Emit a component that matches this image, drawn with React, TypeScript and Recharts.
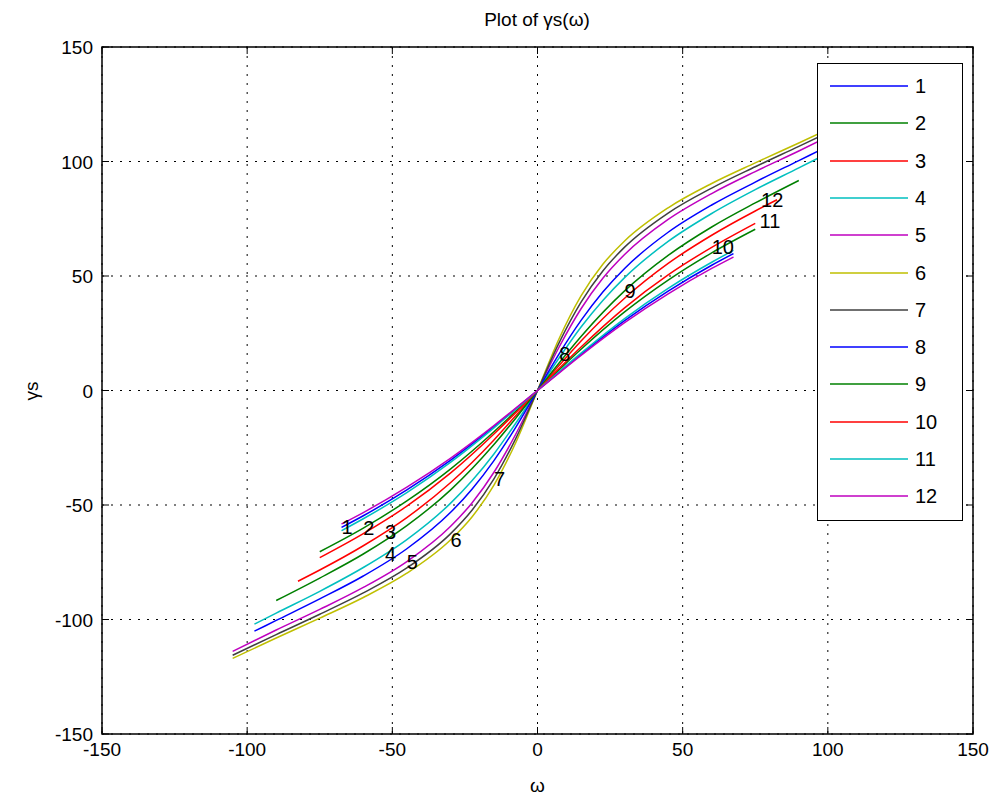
import { ComposedChart, Line, Scatter, XAxis, YAxis, CartesianGrid, Legend, ReferenceArea } from 'recharts'

// month index 1..12, MATLAB default colour order (b g r c m y k, then again)
const MONTHS = ['1', '2', '3', '4', '5', '6', '7', '8', '9', '10', '11', '12']
const COLORS = [
  '#0000ff', '#008000', '#ff0000', '#00bfbf', '#bf00bf', '#bfbf00',
  '#404040', '#0000ff', '#008000', '#ff0000', '#00bfbf', '#bf00bf',
]
const TICKS = [-150, -100, -50, 0, 50, 100, 150]

// [ω, γs]
const M1 = [[-67.5, -59.8], [-60, -54.7], [-45, -43.4], [-30, -30.5], [-15, -15.8], [-7.5, -8.0], [0, 0], [7.5, 8.0], [15, 15.8], [30, 30.5], [45, 43.4], [60, 54.7], [67.5, 59.8]]
const M2 = [[-75, -70.4], [-60, -60.1], [-45, -48.2], [-30, -34.3], [-15, -18.0], [-7.5, -9.1], [0, 0], [7.5, 9.1], [15, 18.0], [30, 34.3], [45, 48.2], [60, 60.1], [75, 70.4]]
const M3 = [[-82.5, -83.3], [-75, -78.4], [-60, -67.8], [-45, -55.5], [-30, -40.3], [-15, -21.6], [-7.5, -11.0], [0, 0], [7.5, 11.0], [15, 21.6], [30, 40.3], [45, 55.5], [60, 67.8], [75, 78.4], [82.5, 83.3]]
const M4 = [[-97.5, -102.0], [-90, -97.2], [-75, -87.7], [-60, -77.3], [-45, -65.1], [-30, -49.3], [-22.5, -39.3], [-15, -27.7], [-7.5, -14.3], [0, 0], [7.5, 14.3], [15, 27.7], [22.5, 39.3], [30, 49.3], [45, 65.1], [60, 77.3], [75, 87.7], [90, 97.2], [97.5, 102.0]]
const M5 = [[-105, -113.9], [-90, -104.6], [-75, -95.6], [-60, -86.0], [-45, -74.7], [-30, -59.4], [-22.5, -49.0], [-15, -35.7], [-7.5, -19.1], [0, 0], [7.5, 19.1], [15, 35.7], [22.5, 49.0], [30, 59.4], [45, 74.7], [60, 86.0], [75, 95.6], [90, 104.6], [105, 113.9]]
const M6 = [[-105, -117.0], [-90, -108.1], [-75, -99.4], [-60, -90.4], [-45, -79.8], [-30, -65.3], [-22.5, -55.1], [-15, -41.3], [-7.5, -22.8], [0, 0], [7.5, 22.8], [15, 41.3], [22.5, 55.1], [30, 65.3], [45, 79.8], [60, 90.4], [75, 99.4], [90, 108.1], [105, 117.0]]
const M7 = [[-105, -115.6], [-90, -106.6], [-75, -97.7], [-60, -88.4], [-45, -77.5], [-30, -62.6], [-22.5, -52.2], [-15, -38.6], [-7.5, -21.0], [0, 0], [7.5, 21.0], [15, 38.6], [22.5, 52.2], [30, 62.6], [45, 77.5], [60, 88.4], [75, 97.7], [90, 106.6], [105, 115.6]]
const M8 = [[-97.5, -105.1], [-90, -100.4], [-75, -91.0], [-60, -81.0], [-45, -69.1], [-30, -53.3], [-22.5, -43.0], [-15, -30.6], [-7.5, -16.1], [0, 0], [7.5, 16.1], [15, 30.6], [22.5, 43.0], [30, 53.3], [45, 69.1], [60, 81.0], [75, 91.0], [90, 100.4], [97.5, 105.1]]
const M9 = [[-90, -91.7], [-75, -81.9], [-60, -71.4], [-45, -59.0], [-30, -43.5], [-15, -23.6], [-7.5, -12.1], [0, 0], [7.5, 12.1], [15, 23.6], [30, 43.5], [45, 59.0], [60, 71.4], [75, 81.9], [90, 91.7]]
const M10 = [[-75, -73.0], [-60, -62.5], [-45, -50.5], [-30, -36.1], [-15, -19.0], [-7.5, -9.7], [0, 0], [7.5, 9.7], [15, 19.0], [30, 36.1], [45, 50.5], [60, 62.5], [75, 73.0]]
const M11 = [[-67.5, -61.2], [-60, -56.0], [-45, -44.6], [-30, -31.4], [-15, -16.3], [-7.5, -8.3], [0, 0], [7.5, 8.3], [15, 16.3], [30, 31.4], [45, 44.6], [60, 56.0], [67.5, 61.2]]
const M12 = [[-67.5, -58.3], [-60, -53.3], [-45, -42.2], [-30, -29.6], [-15, -15.3], [-7.5, -7.7], [0, 0], [7.5, 7.7], [15, 15.3], [30, 29.6], [45, 42.2], [60, 53.3], [67.5, 58.3]]
const SERIES = [M1, M2, M3, M4, M5, M6, M7, M8, M9, M10, M11, M12]

// where the in-plot number tags sit (left edge of the text)
const TAG_W = [-67.5, -60, -52.5, -52.5, -45, -30, -15, 7.5, 30, 60, 76.5, 77]
const TAG_G = [-59.8, -60.1, -61.9, -71.6, -74.7, -65.3, -38.6, 16.1, 43.5, 62.5, 74, 83]

const FONT = '"Liberation Sans", Arial, sans-serif'
// plot box in page pixels
const LEFT = 102, RIGHT = 973, TOP = 47, BOTTOM = 734
const YW = 60, XH = 40

function XTick({ x, payload }: any) {
  return (
    <g>
      <line x1={x} x2={x} y1={BOTTOM} y2={BOTTOM - 7} stroke="#000" />
      <line x1={x} x2={x} y1={TOP} y2={TOP + 7} stroke="#000" />
      <text x={x} y={BOTTOM + 22} textAnchor="middle" fontSize={19} fontFamily={FONT} fill="#000">
        {payload.value}
      </text>
    </g>
  )
}

function YTick({ y, payload }: any) {
  return (
    <g>
      <line x1={LEFT} x2={LEFT + 7} y1={y} y2={y} stroke="#000" />
      <line x1={RIGHT} x2={RIGHT - 7} y1={y} y2={y} stroke="#000" />
      <text x={LEFT - 9} y={y + 7} textAnchor="end" fontSize={19} fontFamily={FONT} fill="#000">
        {payload.value}
      </text>
    </g>
  )
}

// legend rows: sample line then month number, one row per Line series
function LegendBox({ payload }: any) {
  const items = (payload ?? [])
    .filter((p: any) => MONTHS.includes(String(p.value)))
    .sort((a: any, b: any) => Number(a.value) - Number(b.value))
  return (
    <div style={{
      width: 146, height: 458, boxSizing: 'border-box', border: '1.5px solid #000',
      background: '#fff', position: 'relative', fontFamily: FONT,
    }}>
      {items.map((p: any, i: number) => (
        <div key={p.value} style={{
          position: 'absolute', left: 12, top: Math.round(22 + i * 37.3) - 12, height: 24,
          display: 'flex', alignItems: 'center',
        }}>
          <svg width={78} height={4} style={{ display: 'block' }}>
            <line x1={0} x2={78} y1={2} y2={2} stroke={COLORS[Number(p.value) - 1]} strokeWidth={1.5} />
          </svg>
          <span style={{ marginLeft: 7, fontSize: 20, color: '#000' }}>{p.value}</span>
        </div>
      ))}
    </div>
  )
}

export default function App() {
  const tags = TAG_W.map((w, i) => ({ w, g: TAG_G[i], t: MONTHS[i] }))
  return (
    <div style={{ position: 'absolute', left: 0, top: 0, width: 1000, height: 807, background: '#fff' }}>
      <ComposedChart
        width={1000} height={807}
        margin={{ top: TOP, right: 1000 - RIGHT, bottom: 807 - BOTTOM - XH, left: LEFT - YW }}
      >
        <CartesianGrid stroke="#000" strokeDasharray="2 7" />
        <XAxis
          type="number" dataKey="w" domain={[-150, 150]} ticks={TICKS} allowDataOverflow
          height={XH} axisLine={false} tickLine={false} tick={<XTick />} interval={0}
        />
        <YAxis
          type="number" domain={[-150, 150]} ticks={TICKS} allowDataOverflow
          width={YW} axisLine={false} tickLine={false} tick={<YTick />} interval={0}
        />
        {SERIES.map((s, i) => (
          <Line
            key={MONTHS[i]} name={MONTHS[i]} data={s.map(([w, g]) => ({ w, g }))} dataKey="g"
            type="monotone" stroke={COLORS[i]} strokeWidth={1.5}
            dot={false} activeDot={false} isAnimationActive={false}
          />
        ))}
        <Scatter
          name="tags" data={tags} dataKey="g" legendType="none" isAnimationActive={false}
          shape={(p: any) => (
            <text x={p.cx} y={p.cy} dominantBaseline="central" fontSize={20} fontFamily={FONT} fill="#000">
              {p.payload.t}
            </text>
          )}
        />
        <ReferenceArea x1={-150} x2={150} y1={-150} y2={150} fill="none" stroke="#000" strokeWidth={1.5} />
        <Legend
          layout="vertical" align="center" verticalAlign="middle"
          wrapperStyle={{ left: 817, top: 63, width: 146, height: 458 }}
          content={<LegendBox />}
        />
      </ComposedChart>
      <div style={{ position: 'absolute', left: 437, top: 9, width: 200, textAlign: 'center', fontFamily: FONT, fontSize: 19 }}>
        Plot of γs(ω)
      </div>
      <div style={{ position: 'absolute', left: 0, top: 775, width: 1075, textAlign: 'center', fontFamily: FONT, fontSize: 19 }}>
        ω
      </div>
      <div style={{
        position: 'absolute', left: 12, top: 380, width: 40, textAlign: 'center', fontFamily: FONT, fontSize: 19,
        transform: 'rotate(-90deg)',
      }}>
        γs
      </div>
    </div>
  )
}
